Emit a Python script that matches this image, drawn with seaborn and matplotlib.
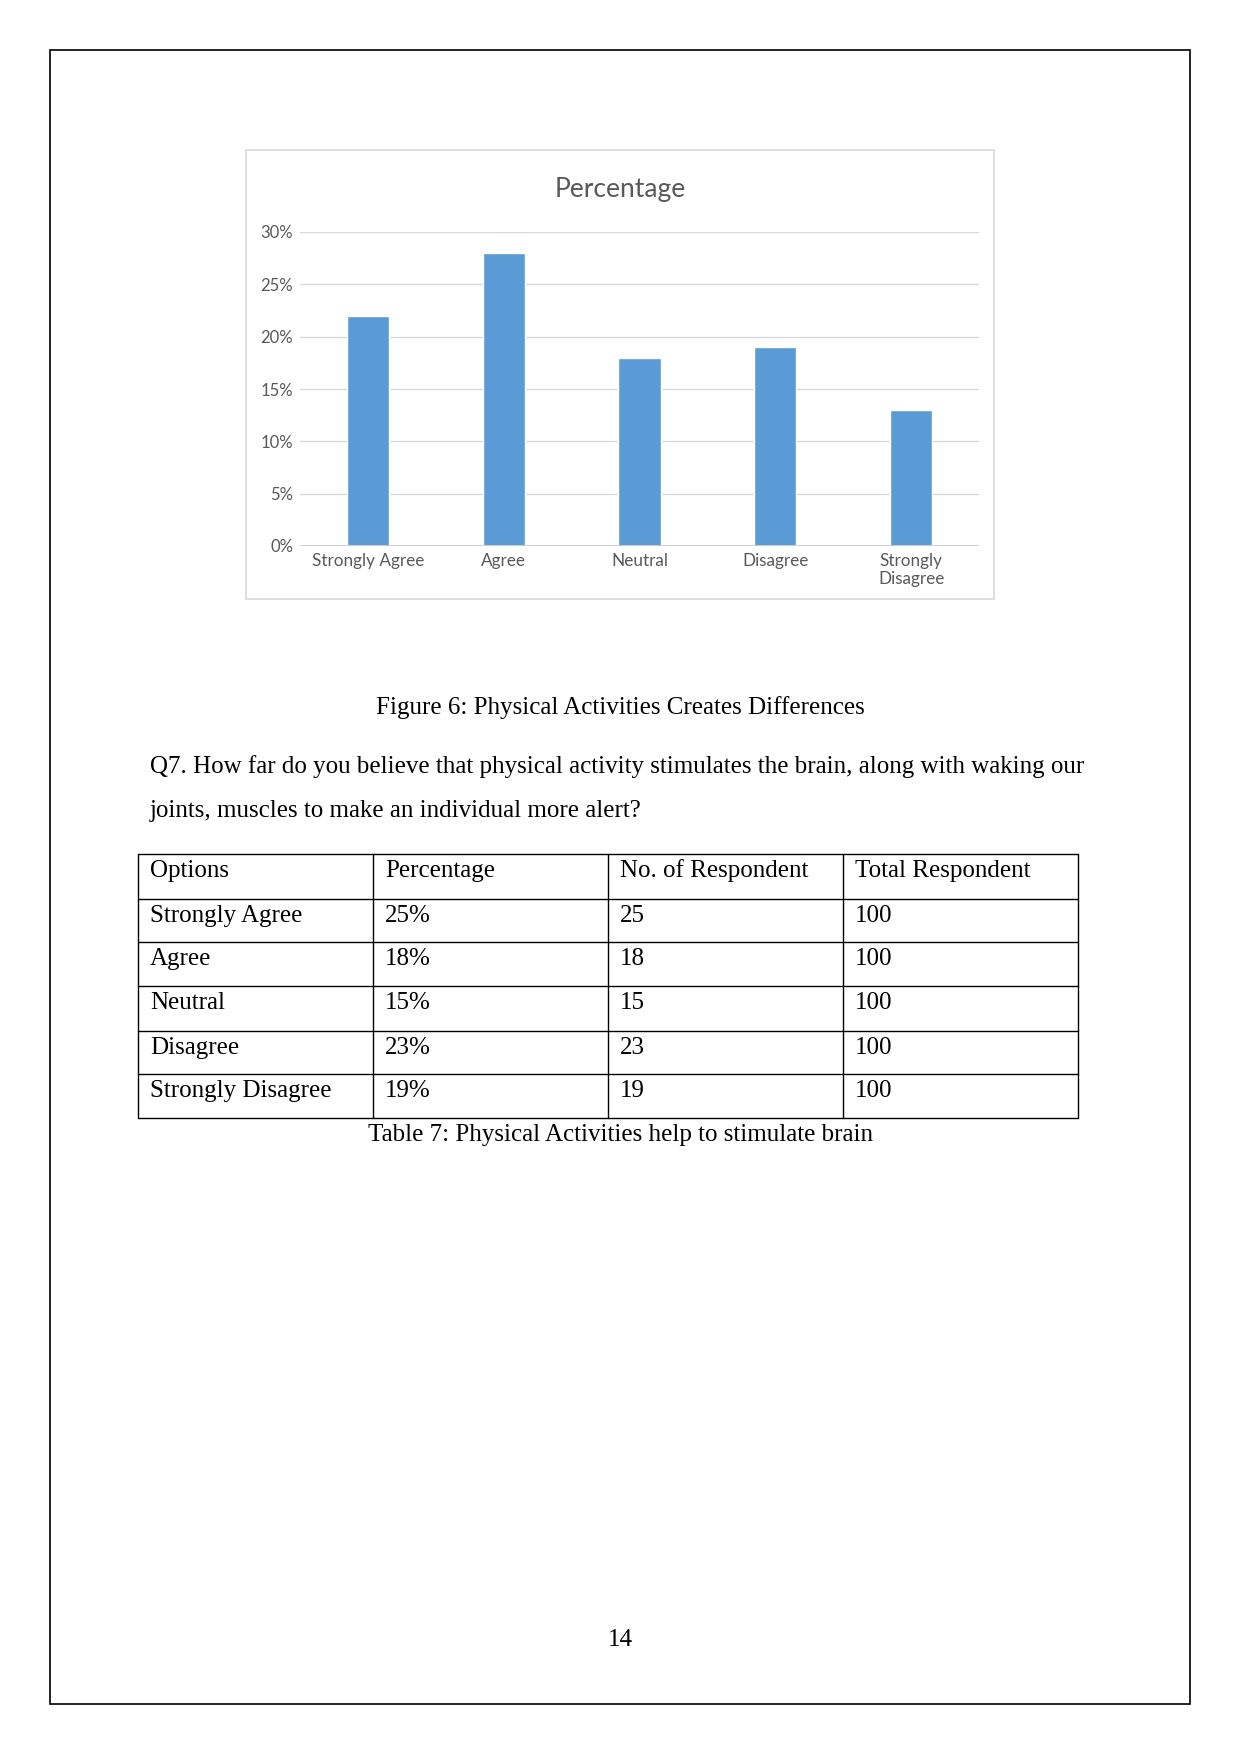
import matplotlib
matplotlib.use("Agg")
import matplotlib.pyplot as plt
import seaborn as sns
import pandas as pd
from matplotlib.patches import Rectangle
from matplotlib.lines import Line2D

# ---------------- data ----------------
categories = ["Strongly Agree", "Agree", "Neutral", "Disagree", "Strongly\nDisagree"]
percent_values = [0.22, 0.28, 0.18, 0.19, 0.13]
y_ticks = [0.0, 0.05, 0.10, 0.15, 0.20, 0.25, 0.30]
y_tick_labels = ["0%", "5%", "10%", "15%", "20%", "25%", "30%"]
chart_title = "Percentage"

figure_caption = "Figure 6: Physical Activities Creates Differences"
question_lines = [
    "Q7. How far do you believe that physical activity stimulates the brain, along with waking our",
    "joints, muscles to make an individual more alert?",
]
table_header = ["Options", "Percentage", "No. of Respondent", "Total Respondent"]
table_options = ["Strongly Agree", "Agree", "Neutral", "Disagree", "Strongly Disagree"]
table_percent = ["25%", "18%", "15%", "23%", "19%"]
table_count = ["25", "18", "15", "23", "19"]
table_total = ["100", "100", "100", "100", "100"]
table_caption = "Table 7: Physical Activities help to stimulate brain"
page_number = "14"

# ---------------- figure ----------------
W, H = 1241, 1754
sns.set_theme(style="white")
fig = plt.figure(figsize=(W / 100, H / 100), dpi=100)
fig.patch.set_facecolor("white")

def fx(x):
    return x / W

def fy(y):
    return 1 - y / H

SERIF = ["Liberation Serif", "DejaVu Serif"]
SANS = ["Lato", "DejaVu Sans"]
TXT = 18

# page border
fig.add_artist(Rectangle((fx(50), fy(1704)), fx(1190) - fx(50), fy(50) - fy(1704),
                         transform=fig.transFigure, fill=False, edgecolor="black", lw=1.2))

# chart frame
fig.add_artist(Rectangle((fx(246), fy(599)), fx(994) - fx(246), fy(150) - fy(599),
                         transform=fig.transFigure, fill=False, edgecolor="#d9d9d9", lw=1.2))

# chart axes
ax_left, ax_right, ax_top, ax_bottom = 300, 979, 232, 546
ax = fig.add_axes([fx(ax_left), fy(ax_bottom), fx(ax_right) - fx(ax_left), fy(ax_top) - fy(ax_bottom)])
df = pd.DataFrame({"cat": categories, "val": percent_values})
sns.barplot(data=df, x="cat", y="val", ax=ax, color="#5b9bd5", saturation=1, width=0.31, zorder=3)
ax.set_xlim(-0.5, len(categories) - 0.5)
ax.set_ylim(0, 0.30)
ax.set_yticks(y_ticks)
ax.set_yticklabels(y_tick_labels, fontfamily=SANS, fontsize=12, color="#595959")
ax.set_xticks(range(len(categories)))
ax.set_xticklabels(categories, fontfamily=SANS, fontsize=12.3, color="#595959", linespacing=1.15)
ax.set_xlabel("")
ax.set_ylabel("")
for s in ax.spines.values():
    s.set_visible(False)
ax.grid(axis="y", color="#d9d9d9", lw=1.0, zorder=0)
ax.grid(axis="x", visible=False)
ax.axhline(0, color="#d0d0d0", lw=1.3, zorder=4)
ax.tick_params(axis="both", length=0)
ax.tick_params(axis="y", pad=5)
ax.tick_params(axis="x", pad=5)
ax.set_facecolor("none")
ax.patch.set_alpha(0)

fig.text(fx(620), fy(190), chart_title, ha="center", va="center",
         fontfamily=SANS, fontsize=19, color="#595959")

# caption and question
fig.text(fx(620), fy(708), figure_caption, ha="center", va="center", fontfamily=SERIF, fontsize=TXT, color="black")
fig.text(fx(150), fy(767), question_lines[0], ha="left", va="center", fontfamily=SERIF, fontsize=TXT, color="black")
fig.text(fx(150), fy(811), question_lines[1], ha="left", va="center", fontfamily=SERIF, fontsize=TXT, color="black")

# table
col_x = [138, 373, 608, 843, 1078]
row_y = [854, 899, 942, 986, 1031, 1074, 1118]
for x in col_x:
    fig.add_artist(Line2D([fx(x), fx(x)], [fy(row_y[0]), fy(row_y[-1])], transform=fig.transFigure,
                          color="black", lw=1.0))
for y in row_y:
    fig.add_artist(Line2D([fx(col_x[0]), fx(col_x[-1])], [fy(y), fy(y)], transform=fig.transFigure,
                          color="black", lw=1.0))

rows = [table_header] + [list(r) for r in zip(table_options, table_percent, table_count, table_total)]
for i, row in enumerate(rows):
    ty = row_y[i] + 17
    for j, cell in enumerate(row):
        fig.text(fx(col_x[j] + 12), fy(ty), cell, ha="left", va="center",
                 fontfamily=SERIF, fontsize=TXT, color="black")

fig.text(fx(620), fy(1135), table_caption, ha="center", va="center", fontfamily=SERIF, fontsize=TXT, color="black")
fig.text(fx(620), fy(1640), page_number, ha="center", va="center", fontfamily=SERIF, fontsize=TXT, color="black")

fig.savefig("out.png", dpi=100, facecolor="white")
